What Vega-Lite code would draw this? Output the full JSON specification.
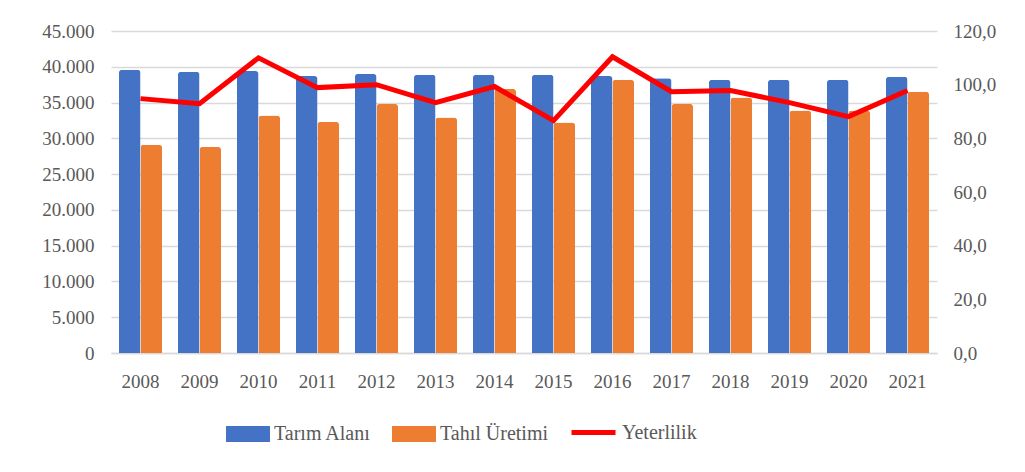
{
  "$schema": "https://vega.github.io/schema/vega-lite/v6.json",
  "width": 826,
  "height": 322,
  "autosize": {"type": "none"},
  "padding": {"left": 111, "top": 31, "right": 88, "bottom": 119},
  "background": "white",
  "config": {
    "view": {"stroke": null},
    "font": "Liberation Serif",
    "axis": {"labelFont": "Liberation Serif", "labelFontSize": 19, "labelColor": "#595959", "title": null},
    "legend": {"labelFont": "Liberation Serif", "labelFontSize": 20, "labelColor": "#595959", "labelLimit": 300}
  },
  "data": {"values": [
    {"year": "2008", "tarim": 39600, "tahil": 29100, "yet": 94.8},
    {"year": "2009", "tarim": 39300, "tahil": 28800, "yet": 92.9},
    {"year": "2010", "tarim": 39400, "tahil": 33200, "yet": 110.0},
    {"year": "2011", "tarim": 38700, "tahil": 32300, "yet": 98.9},
    {"year": "2012", "tarim": 39000, "tahil": 34800, "yet": 100.0},
    {"year": "2013", "tarim": 38900, "tahil": 32900, "yet": 93.3},
    {"year": "2014", "tarim": 38900, "tahil": 36900, "yet": 99.3},
    {"year": "2015", "tarim": 38900, "tahil": 32200, "yet": 86.6},
    {"year": "2016", "tarim": 38700, "tahil": 38200, "yet": 110.4},
    {"year": "2017", "tarim": 38400, "tahil": 34800, "yet": 97.4},
    {"year": "2018", "tarim": 38200, "tahil": 35700, "yet": 97.8},
    {"year": "2019", "tarim": 38200, "tahil": 33900, "yet": 93.3},
    {"year": "2020", "tarim": 38200, "tahil": 33900, "yet": 88.1},
    {"year": "2021", "tarim": 38600, "tahil": 36500, "yet": 97.8}
  ]},
  "encoding": {
    "x": {"field": "year", "type": "nominal", "scale": {"paddingInner": 0.27, "paddingOuter": 0.135},
      "axis": {"labelAngle": 0, "ticks": false, "domainColor": "#d9d9d9", "domainWidth": 1.5, "labelPadding": 19}}
  },
  "layer": [
    {
      "transform": [{"fold": ["tarim", "tahil"], "as": ["k", "v"]},
        {"calculate": "datum.k == 'tarim' ? 'Tarım Alanı' : 'Tahıl Üretimi'", "as": "seri"}],
      "mark": {"type": "bar", "cornerRadiusTopLeft": 3, "cornerRadiusTopRight": 3},
      "encoding": {
        "xOffset": {"field": "seri", "type": "nominal", "sort": ["Tarım Alanı", "Tahıl Üretimi"]},
        "y": {"field": "v", "type": "quantitative", "scale": {"domain": [0, 45000]},
          "axis": {"values": [0,5000,10000,15000,20000,25000,30000,35000,40000,45000], "grid": true, "gridColor": "#d9d9d9", "gridWidth": 1.5, "domain": false, "ticks": false, "labelPadding": 17,
            "labelExpr": "replace(format(datum.value, ','), ',', '.')"}},
        "color": {"field": "seri", "type": "nominal",
          "scale": {"domain": ["Tarım Alanı", "Tahıl Üretimi"], "range": ["#4472c4", "#ed7d31"]},
          "legend": {"title": null, "orient": "none", "legendX": 115, "legendY": 381, "direction": "horizontal",
            "symbolType": "M-1,-0.36L1,-0.36L1,0.36L-1,0.36Z", "symbolSize": 1936, "symbolStrokeWidth": 0, "symbolOpacity": 1,
            "labelOffset": 4, "columnPadding": 21}}
      }
    },
    {
      "transform": [{"calculate": "'Yeterlilik'", "as": "s2"}],
      "mark": {"type": "line", "strokeWidth": 5, "strokeJoin": "miter"},
      "encoding": {
        "y": {"field": "yet", "type": "quantitative", "scale": {"domain": [0, 120]},
          "axis": {"orient": "right", "values": [0,20,40,60,80,100,120], "grid": false, "domain": false, "ticks": false, "labelPadding": 16,
            "labelExpr": "replace(format(datum.value, '.1f'), '.', ',')"}},
        "stroke": {"field": "s2", "type": "nominal", "scale": {"domain": ["Yeterlilik"], "range": ["#ff0000"]},
          "legend": {"title": null, "orient": "none", "legendX": 458, "legendY": 377, "symbolType": "stroke", "symbolSize": 1936, "symbolStrokeWidth": 5, "labelOffset": 4}}
      }
    }
  ],
  "resolve": {"scale": {"y": "independent"}}
}
